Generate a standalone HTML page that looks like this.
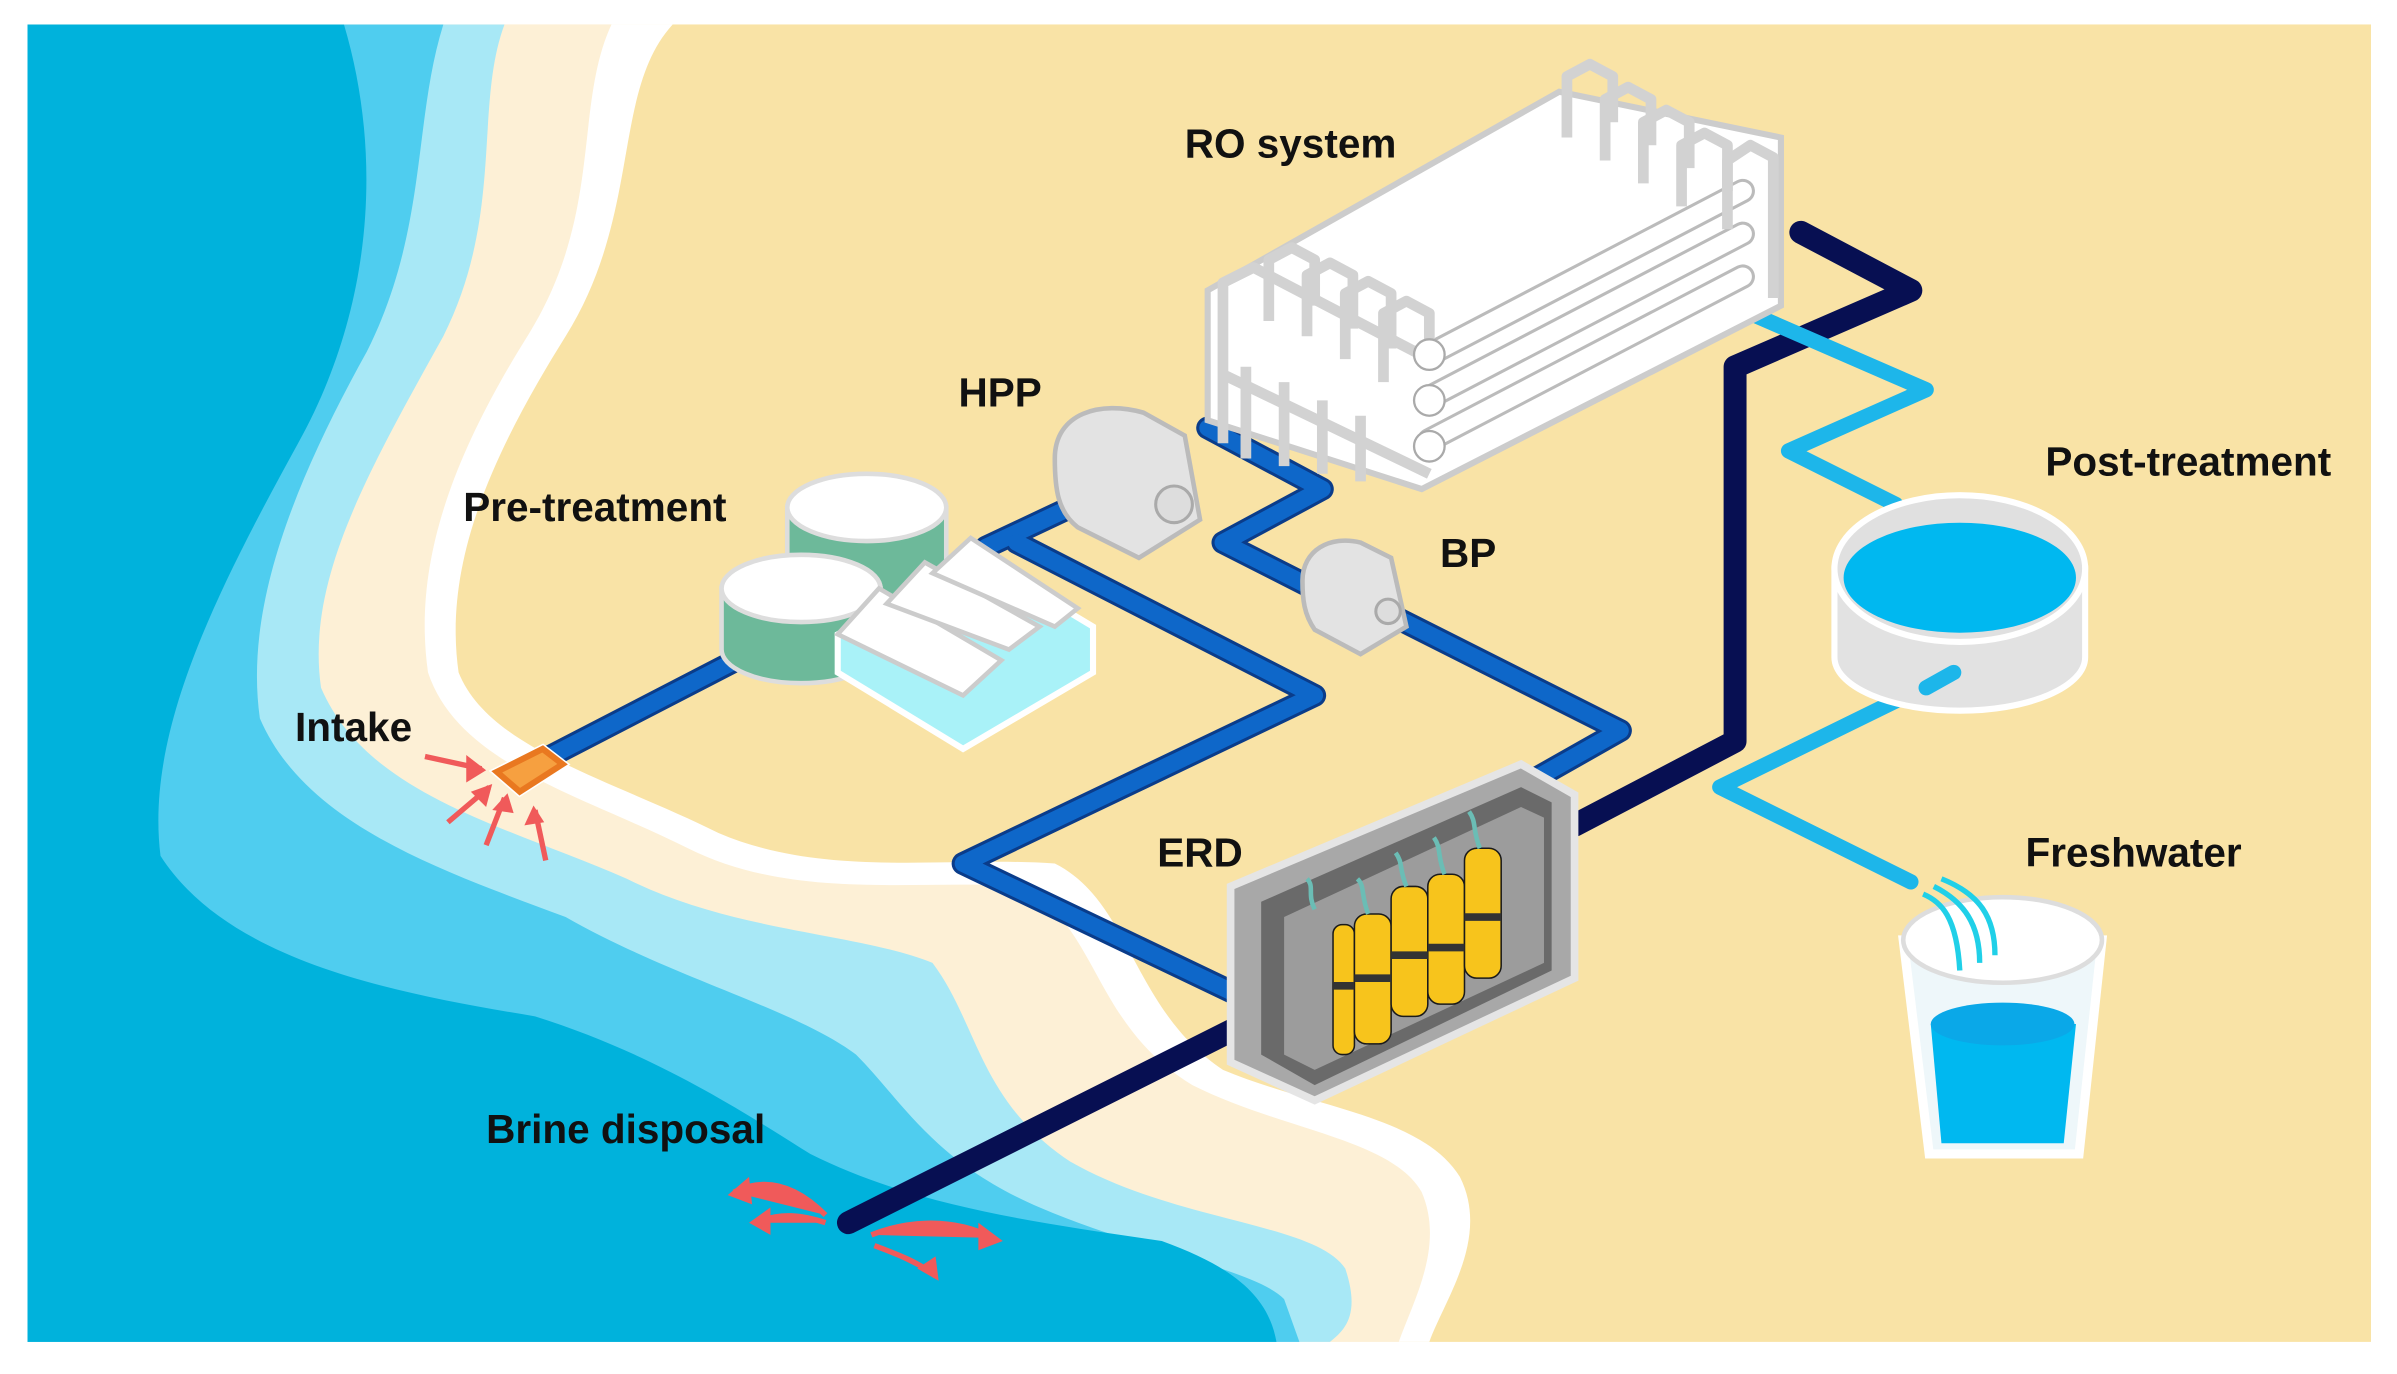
<!DOCTYPE html>
<html><head><meta charset="utf-8"><style>
html,body{margin:0;padding:0;background:#fff;width:2397px;height:1374px;overflow:hidden}
svg{display:block}
text{font-family:"Liberation Sans",Arial,sans-serif;font-weight:bold;font-size:26.5px;fill:#111}
</style></head><body>
<svg width="2397" height="1374" viewBox="0 0 1568 899" preserveAspectRatio="none">
<rect width="1568" height="899" fill="#fff"/>
<rect x="18" y="16" width="1533" height="862" fill="#F9E3A6"/>
<path d="M18,16 L440,16 C400,60 420,140 370,220 C320,300 290,370 300,440 C320,490 400,510 470,545 C540,575 620,560 690,565 C740,590 740,660 800,700 C860,725 930,730 955,770 C975,810 945,850 935,878 L18,878 Z" fill="#fff"/>
<path d="M18,16 L400,16 C375,70 395,140 345,220 C295,300 270,370 280,440 C300,500 380,520 450,555 C520,590 600,575 670,580 C720,610 715,670 780,710 C840,740 910,745 930,780 C945,815 925,850 915,878 L18,878 Z" fill="#FDF0D6"/>
<path d="M18,16 L330,16 C310,70 330,140 290,220 C240,310 200,380 210,450 C240,520 330,540 410,575 C480,610 560,610 610,630 C640,670 640,720 700,760 C770,800 860,800 880,830 C890,860 880,870 870,878 L18,878 Z" fill="#A8E8F6"/>
<path d="M18,16 L290,16 C270,80 280,150 240,230 C190,320 160,400 170,470 C200,540 290,570 370,600 C440,640 520,660 560,690 C590,720 610,760 680,790 C750,820 820,830 840,850 L850,878 L18,878 Z" fill="#4FCDEF"/>
<path d="M18,16 L225,16 C250,100 245,200 195,290 C140,390 95,480 105,560 C150,630 260,650 350,665 C430,690 490,730 530,755 C600,790 680,800 760,812 C810,830 830,850 835,878 L18,878 Z" fill="#00B2DC"/>
<g fill="none" stroke-linecap="round" stroke-linejoin="round">
<g stroke="#0A3C8A" stroke-width="15">
<path d="M350,500 L495,425"/><path d="M645,358 L715,325"/>
<path d="M665,355 L860,455 L630,565 L812,652"/>
<path d="M790,280 L865,320 L800,355 L865,388"/><path d="M915,405 L1060,478 L1000,512"/>
</g>
<g stroke="#0E67C9" stroke-width="11">
<path d="M350,500 L495,425"/><path d="M645,358 L715,325"/>
<path d="M665,355 L860,455 L630,565 L812,652"/>
<path d="M790,280 L865,320 L800,355 L865,388"/><path d="M915,405 L1060,478 L1000,512"/>
</g>
<g stroke="#070F52" stroke-width="15">
<path d="M1030,540 L1135,485 L1135,240 L1250,190 L1178,152"/><path d="M830,662 L555,800"/>
</g>
<g stroke="#1DB6EA" stroke-width="10">
<path d="M1145,205 L1260,255 L1170,295 L1240,330"/><path d="M1278,440 L1125,515 L1250,577"/>
</g>
</g>
<g stroke="#aaa" stroke-width="1.5">
<path d="M790,190 L1020,60 L1165,90 L1165,200 L930,320 L790,275 Z" fill="#fff" stroke="#ccc" stroke-width="4"/>
<g stroke="#bbb" stroke-width="16" stroke-linecap="round" fill="none">
<path d="M935,232 L1140,125"/><path d="M935,260 L1140,153"/><path d="M935,288 L1140,181"/>
</g>
<g stroke="#fff" stroke-width="12" stroke-linecap="round" fill="none">
<path d="M935,232 L1140,125"/><path d="M935,260 L1140,153"/><path d="M935,288 L1140,181"/>
<path d="M880,205 L1090,95"/>
</g>
<g fill="none" stroke="#d2d2d2" stroke-width="7" stroke-linejoin="round">
<path d="M800,290 L800,185 L820,175 L935,235"/>
<path d="M830,210 L830,170 L845,162 L860,170 L860,200"/>
<path d="M855,220 L855,180 L870,172 L885,180 L885,215"/>
<path d="M880,235 L880,192 L895,184 L910,192 L910,228"/>
<path d="M905,250 L905,205 L920,197 L935,205 L935,240"/>
<path d="M1025,90 L1025,50 L1040,42 L1055,50 L1055,80"/>
<path d="M1050,105 L1050,65 L1065,57 L1080,65 L1080,95"/>
<path d="M1075,120 L1075,80 L1090,72 L1105,80 L1105,110"/>
<path d="M1100,135 L1100,95 L1115,87 L1130,95 L1130,125"/>
<path d="M1130,150 L1130,105 L1145,95 L1160,103 L1160,195"/>
<path d="M815,240 L815,300"/><path d="M840,250 L840,305"/><path d="M865,262 L865,310"/><path d="M890,272 L890,315"/>
<path d="M800,245 L935,310"/>
</g>
<circle cx="935" cy="232" r="10" fill="#fff"/><circle cx="935" cy="262" r="10" fill="#fff"/><circle cx="935" cy="292" r="10" fill="#fff"/>
</g>
<path d="M690,300 C690,270 720,262 748,270 L775,285 L785,340 L745,365 L705,345 C692,335 690,320 690,300 Z" fill="#e3e3e3" stroke="#bbb" stroke-width="3"/>
<circle cx="768" cy="330" r="12" fill="#ddd" stroke="#aaa" stroke-width="2"/>
<path d="M852,380 C852,360 870,350 890,355 L910,365 L920,410 L890,428 L860,412 C853,402 852,392 852,380 Z" fill="#e3e3e3" stroke="#bbb" stroke-width="3"/>
<circle cx="908" cy="400" r="8" fill="#ddd" stroke="#aaa" stroke-width="2"/>
<g stroke="#ddd" stroke-width="3">
<path d="M515,332 L515,372 A52,22 0 0 0 619,372 L619,332 Z" fill="#6DB99A"/>
<ellipse cx="567" cy="332" rx="52" ry="22" fill="#fff"/>
<path d="M472,385 L472,425 A52,22 0 0 0 576,425 L576,385 Z" fill="#6DB99A"/>
<ellipse cx="524" cy="385" rx="52" ry="22" fill="#fff"/>
<path d="M548,415 L548,440 L630,490 L715,440 L715,410 L640,365 Z" fill="#A9F2F8" stroke="#fff" stroke-width="4"/>
<path d="M548,415 L575,385 L655,432 L630,455 Z" fill="#fff" stroke="#ccc"/>
<path d="M580,395 L605,368 L680,410 L660,425 Z" fill="#fff" stroke="#ccc"/>
<path d="M610,375 L635,352 L705,398 L690,410 Z" fill="#fff" stroke="#ccc"/>
</g>
<g stroke="#E97820" stroke-width="4" fill="none">
<path d="M325,505 L355,490 L368,500 L340,518 Z" fill="#F6A040" stroke="#fff" stroke-width="6"/>
<path d="M325,505 L355,490 L368,500 L340,518 Z" fill="#F6A040"/>
</g>
<g stroke="#F05A5A" stroke-width="3.5" fill="#F05A5A">
<path d="M278,495 L315,503"/><path d="M293,538 L320,515"/><path d="M318,553 L330,522"/><path d="M357,563 L350,530"/>
<path d="M480,780 C500,770 520,775 540,795"/><path d="M495,800 C510,793 525,795 540,800"/>
<path d="M570,808 C590,800 620,795 650,810"/><path d="M572,815 C585,820 600,825 612,835"/>
</g>
<g fill="#F05A5A">
<polygon points="318,504 305,494 305,512"/><polygon points="322,513 308,518 318,528"/><polygon points="332,519 322,530 336,532"/><polygon points="349,527 343,540 356,538"/>
<polygon points="476,782 490,770 492,788"/><polygon points="490,800 504,790 504,808"/><polygon points="656,812 640,800 640,818"/><polygon points="614,838 600,830 612,822"/>
</g>
<path d="M805,580 L995,500 L1030,520 L1030,640 L860,720 L805,695 Z" fill="#a8a8a8" stroke="#e5e5e5" stroke-width="5"/>
<path d="M825,590 L995,515 L1015,525 L1015,635 L860,710 L825,690 Z" fill="#6a6a6a"/>
<path d="M840,600 L995,528 L1010,535 L1010,630 L860,700 L840,690 Z" fill="#9c9c9c"/>
<g stroke="#1a1a1a" stroke-width="1">
<rect x="872" y="605" width="14" height="85" rx="6" fill="#F7C41C"/>
<rect x="886" y="598" width="24" height="85" rx="8" fill="#F7C41C"/>
<rect x="910" y="580" width="24" height="85" rx="8" fill="#F7C41C"/>
<rect x="934" y="572" width="24" height="85" rx="8" fill="#F7C41C"/>
<rect x="958" y="555" width="24" height="85" rx="8" fill="#F7C41C"/>
</g>
<g stroke="#333" stroke-width="5"><path d="M872,645 L886,645"/><path d="M886,640 L910,640"/><path d="M910,625 L934,625"/><path d="M934,620 L958,620"/><path d="M958,600 L982,600"/></g>
<g stroke="#6bbdb5" stroke-width="3" fill="none"><path d="M860,595 C855,585 860,580 855,575"/><path d="M895,598 C890,585 893,580 888,575"/><path d="M920,580 C915,568 918,565 913,558"/><path d="M945,572 C940,560 943,555 938,548"/><path d="M968,555 C963,542 966,538 961,531"/></g>
<path d="M1200,372 L1200,430 A82,35 0 0 0 1364,430 L1364,372 Z" fill="#e2e2e2" stroke="#fff" stroke-width="4"/>
<ellipse cx="1282" cy="372" rx="82" ry="48" fill="#e0e0e0" stroke="#fff" stroke-width="4"/>
<ellipse cx="1282" cy="378" rx="76" ry="36" fill="#00B8F0"/>
<path d="M1278,440 L1260,450" stroke="#1DB6EA" stroke-width="10" stroke-linecap="round"/>
<path d="M1245,615 L1375,615 L1360,755 L1262,755 Z" fill="#eef7fa" stroke="#fff" stroke-width="6"/>
<ellipse cx="1310" cy="615" rx="65" ry="28" fill="#fff" stroke="#ddd" stroke-width="3"/>
<path d="M1263,670 L1358,670 L1350,748 L1270,748 Z" fill="#00B8F0"/>
<ellipse cx="1310" cy="670" rx="47" ry="14" fill="#0AA8E8"/>
<g stroke="#20D0E8" stroke-width="3.5" fill="none"><path d="M1258,585 C1270,590 1280,600 1282,635"/><path d="M1265,580 C1285,590 1295,605 1295,630"/><path d="M1270,575 C1295,585 1305,600 1305,625"/></g>
<text x="775" y="103">RO system</text>
<text x="627" y="266">HPP</text>
<text x="303" y="341">Pre-treatment</text>
<text x="942" y="371">BP</text>
<text x="193" y="485">Intake</text>
<text x="757" y="567">ERD</text>
<text x="1338" y="311">Post-treatment</text>
<text x="1325" y="567">Freshwater</text>
<text x="318" y="748">Brine disposal</text>
</svg>
</body></html>
